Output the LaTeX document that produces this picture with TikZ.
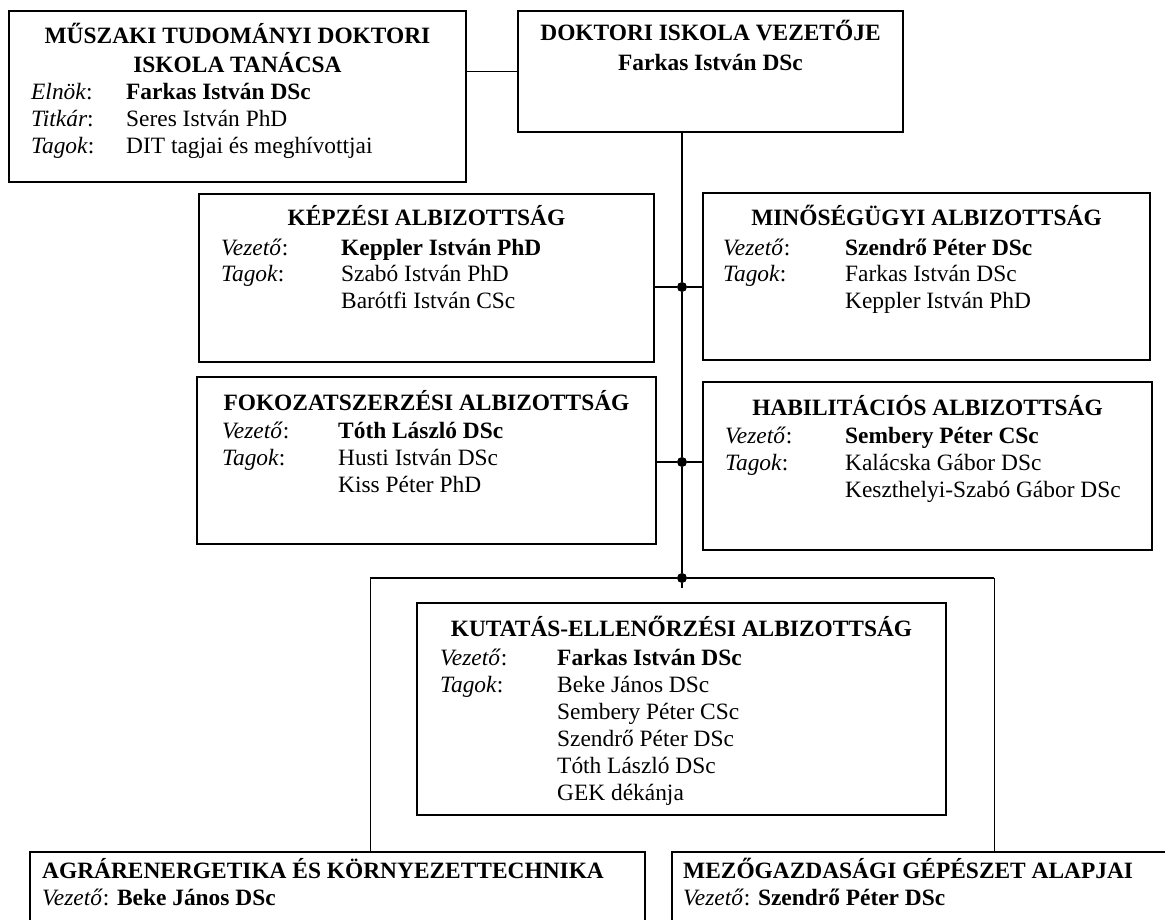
\documentclass[tikz,border=0pt]{standalone}
\usepackage{fontspec}
\setmainfont{Liberation Serif}
\usetikzlibrary{positioning}

\tikzset{
  panel/.style={draw, line width=1.6pt, inner sep=0pt},
  head/.style={anchor=base, inner sep=0pt, font=\fontsize{23.4}{27}\selectfont\bfseries},
  body/.style={anchor=base west, inner sep=0pt},
  joint/.style={circle, fill, inner sep=0pt, minimum size=10pt},
  link/.style={line width=1.1pt}
}

\begin{document}
\begin{tikzpicture}[x=1pt, y=-1pt, font=\fontsize{23.4}{27}\selectfont]
      \clip (0,0) rectangle (1165,920);

      % top row
      \node[panel, minimum width=457, minimum height=171]  (tanacs)  at (237.5,  96.5) {};
      \node[head]  (tanacsH)  at (237.5,  44) {\begin{tabular}[t]{@{}c@{}}MŰSZAKI TUDOMÁNYI DOKTORI\\ ISKOLA TANÁCSA\end{tabular}};
      \node[body]  (tanacsB)  at (31, 100) {\begin{tabular}[t]{@{}p{95pt}@{}l@{}}
        \textit{Elnök}:  & \textbf{Farkas István DSc}\\
        \textit{Titkár}: & Seres István PhD\\
        \textit{Tagok}:  & DIT tagjai és meghívottjai
      \end{tabular}};

      \node[panel, minimum width=385, minimum height=121]  (vezeto)  at (710.5,  71.5) {};
      \node[head]  (vezetoH)  at (710.5,  41) {\begin{tabular}[t]{@{}c@{}}DOKTORI ISKOLA VEZETŐJE\\[3pt] Farkas István DSc\end{tabular}};

      % albizottsagok
      \node[panel, minimum width=455, minimum height=168]  (kepzes)  at (426.5, 278) {};
      \node[head]  (kepzesH)  at (426.5, 226) {KÉPZÉSI ALBIZOTTSÁG};
      \node[body]  (kepzesB)  at (221, 255) {\begin{tabular}[t]{@{}p{120pt}@{}l@{}}
        \textit{Vezető}: & \textbf{Keppler István PhD}\\
        \textit{Tagok}:  & Szabó István PhD\\
                         & Barótfi István CSc
      \end{tabular}};

      \node[panel, minimum width=447, minimum height=167]  (minoseg) at (926.5, 276.5) {};
      \node[head]  (minosegH) at (926.5, 226) {MINŐSÉGÜGYI ALBIZOTTSÁG};
      \node[body]  (minosegB) at (723, 255) {\begin{tabular}[t]{@{}p{122pt}@{}l@{}}
        \textit{Vezető}: & \textbf{Szendrő Péter DSc}\\
        \textit{Tagok}:  & Farkas István DSc\\
                         & Keppler István PhD
      \end{tabular}};

      \node[panel, minimum width=459, minimum height=167]  (fokozat) at (426.5, 460.5) {};
      \node[head]  (fokozatH) at (426.5, 410) {FOKOZATSZERZÉSI ALBIZOTTSÁG};
      \node[body]  (fokozatB) at (222, 438) {\begin{tabular}[t]{@{}p{116pt}@{}l@{}}
        \textit{Vezető}: & \textbf{Tóth László DSc}\\
        \textit{Tagok}:  & Husti István DSc\\
                         & Kiss Péter PhD
      \end{tabular}};

      \node[panel, minimum width=449, minimum height=168]  (habil)   at (927.5, 466) {};
      \node[head]  (habilH)   at (927.5, 415) {HABILITÁCIÓS ALBIZOTTSÁG};
      \node[body]  (habilB)   at (725, 443) {\begin{tabular}[t]{@{}p{120pt}@{}l@{}}
        \textit{Vezető}: & \textbf{Sembery Péter CSc}\\
        \textit{Tagok}:  & Kalácska Gábor DSc\\
                         & Keszthelyi-Szabó Gábor DSc
      \end{tabular}};

      \node[panel, minimum width=529, minimum height=212]  (kutatas) at (681.5, 709) {};
      \node[head]  (kutatasH) at (681.5, 636) {KUTATÁS-ELLENŐRZÉSI ALBIZOTTSÁG};
      \node[body]  (kutatasB) at (440, 665) {\begin{tabular}[t]{@{}p{117pt}@{}l@{}}
        \textit{Vezető}: & \textbf{Farkas István DSc}\\
        \textit{Tagok}:  & Beke János DSc\\
                         & Sembery Péter CSc\\
                         & Szendrő Péter DSc\\
                         & Tóth László DSc\\
                         & GEK dékánja
      \end{tabular}};

      % tanszekek
      \node[panel, minimum width=615, minimum height=140]  (agrar)   at (337.5, 922) {};
      \node[head, anchor=base west]  (agrarH) at (42, 878) {AGRÁRENERGETIKA ÉS KÖRNYEZETTECHNIKA};
      \node[body]  (agrarB)   at (42, 905) {\textit{Vezető}: \textbf{Beke János DSc}};

      \node[panel, minimum width=528, minimum height=140]  (mezo)    at (936, 922) {};
      \node[head, anchor=base west]  (mezoH)  at (683, 878) {MEZŐGAZDASÁGI GÉPÉSZET ALAPJAI};
      \node[body]  (mezoB)    at (683, 905) {\textit{Vezető}: \textbf{Szendrő Péter DSc}};

      % kapcsolatok
      \node[joint] (j1) at (682, 287) {};
      \node[joint] (j2) at (682, 462) {};
      \node[joint] (j3) at (682, 578) {};
      \coordinate (tail) at (682, 588);
      \coordinate (busL) at (370, 578);
      \coordinate (busR) at (994, 578);

      \draw[line width=1.6pt] (tanacs.east |- vezeto.west) -- (vezeto.west);

      \draw[link] (vezeto.south -| j1) -- (j1) -- (j2) -- (j3) -- (tail);
      \draw[link] (kepzes.east |- j1) -- (j1) -- (minoseg.west |- j1);
      \draw[link] (fokozat.east |- j2) -- (j2) -- (habil.west |- j2);

      \draw[link] (busL) -- (j3) -- (busR);
      \draw[line width=0.8pt] (busL) -- (agrar.north -| busL);
      \draw[line width=0.8pt] (busR) -- (mezo.north -| busR);
\end{tikzpicture}
\end{document}
